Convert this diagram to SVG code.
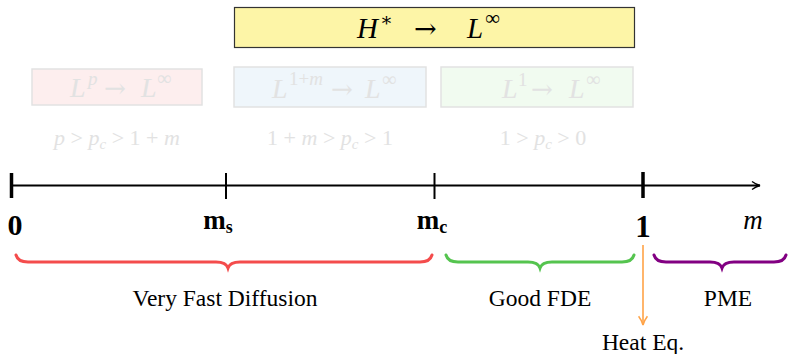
<svg xmlns="http://www.w3.org/2000/svg" width="789" height="354" viewBox="0 0 789 354">
<style>
.serif{font-family:"Liberation Serif","DejaVu Serif",serif;}
.math{font-family:"Liberation Serif","DejaVu Serif",serif;font-style:italic;}
.up{font-style:normal;}
.arr{font-family:"DejaVu Serif",serif;font-style:normal;}
.faint{fill:#e2e2e2;}
.fbox{stroke:#e2e2e2;stroke-width:1.5;}
.tick{stroke:#000;}
.brace{fill:none;stroke-width:3;stroke-linecap:round;}
</style>
<defs>
<marker id="chev" viewBox="0 0 10 10" refX="9" refY="5" markerWidth="10" markerHeight="10" markerUnits="userSpaceOnUse" orient="auto">
<path d="M1,1 Q5,4 9,5 Q5,6 1,9" fill="none" stroke="#000" stroke-width="1.3"/>
</marker>
<marker id="chevO" viewBox="0 0 10 10" refX="9" refY="5" markerWidth="11" markerHeight="11" markerUnits="userSpaceOnUse" orient="auto">
<path d="M1,1 Q5,4 9,5 Q5,6 1,9" fill="none" stroke="#ffa347" stroke-width="1.4"/>
</marker>
</defs>

<g id="top-box">
<rect x="234.5" y="7.5" width="400" height="40" fill="#fdf5a7" stroke="#333" stroke-width="1.2"/>
<text y="38" class="math" font-size="29"><tspan x="357">H</tspan><tspan x="380" y="26" font-size="19">∗</tspan><tspan x="414" y="38" class="arr" font-size="27">→</tspan><tspan x="467">L</tspan><tspan x="485" y="25" font-size="21" class="up">∞</tspan></text>
</g>

<g id="box-lp">
<rect x="32" y="69" width="170" height="36" fill="#fdeeee" class="fbox"/>
<text y="97" class="math faint" font-size="28"><tspan x="70">L</tspan><tspan x="88" y="85" font-size="19">p</tspan><tspan x="104" y="97" class="arr" font-size="26">→</tspan><tspan x="141">L</tspan><tspan x="157" y="85" font-size="20" class="up">∞</tspan></text>
<text x="117" y="145" text-anchor="middle" class="math faint" font-size="22">p <tspan class="up">&gt;</tspan> p<tspan font-size="15" dy="4">c</tspan><tspan dy="-4" class="up"> &gt; 1 + </tspan>m</text>
</g>

<g id="box-l1m">
<rect x="234" y="67" width="192" height="40" fill="#eff6fb" class="fbox"/>
<text y="98" class="math faint" font-size="28"><tspan x="272">L</tspan><tspan x="289" y="85" font-size="19" class="up">1+</tspan><tspan font-size="19">m</tspan><tspan x="331" y="98" class="arr" font-size="26">→</tspan><tspan x="365">L</tspan><tspan x="382" y="86" font-size="20" class="up">∞</tspan></text>
<text x="330" y="145" text-anchor="middle" class="math faint" font-size="22"><tspan class="up">1 + </tspan>m <tspan class="up">&gt;</tspan> p<tspan font-size="15" dy="4">c</tspan><tspan dy="-4" class="up"> &gt; 1</tspan></text>
</g>

<g id="box-l1">
<rect x="441" y="67" width="192" height="40" fill="#f1fbf0" class="fbox"/>
<text y="98" class="math faint" font-size="28"><tspan x="502">L</tspan><tspan x="518" y="86" font-size="19" class="up">1</tspan><tspan x="531" y="98" class="arr" font-size="26">→</tspan><tspan x="569">L</tspan><tspan x="586" y="86" font-size="20" class="up">∞</tspan></text>
<text x="543" y="145" text-anchor="middle" class="math faint" font-size="22"><tspan class="up">1 &gt; </tspan>p<tspan font-size="15" dy="4">c</tspan><tspan dy="-4" class="up"> &gt; 0</tspan></text>
</g>

<g id="axis">
<line x1="11" y1="185.5" x2="760" y2="185.5" stroke="#000" stroke-width="2" marker-end="url(#chev)"/>
<line x1="11.5" y1="173" x2="11.5" y2="198" class="tick" stroke-width="3.5"/>
<line x1="226" y1="173" x2="226" y2="199" class="tick" stroke-width="2"/>
<line x1="434.5" y1="173" x2="434.5" y2="199" class="tick" stroke-width="2"/>
<line x1="643" y1="172" x2="643" y2="198" class="tick" stroke-width="3.5"/>
<text x="15" y="235" text-anchor="middle" class="serif" font-weight="bold" font-size="30">0</text>
<text x="218" y="229" text-anchor="middle" class="serif" font-weight="bold" font-size="27">m<tspan font-size="18" dy="4">s</tspan></text>
<text x="432" y="229" text-anchor="middle" class="serif" font-weight="bold" font-size="27">m<tspan font-size="18" dy="4">c</tspan></text>
<text x="643" y="237" text-anchor="middle" class="serif" font-weight="bold" font-size="31">1</text>
<text x="753" y="229" text-anchor="middle" class="math" font-size="27">m</text>
</g>

<g id="brace-vfd">
<path class="brace" stroke="#f44c4c" d="M16,255 Q18,262 28,262 L216,262 Q226,262 228,268 Q230,262 240,262 L420,262 Q430,262 432,255"/>
<text x="225" y="306" text-anchor="middle" class="serif" font-size="23.5">Very Fast Diffusion</text>
</g>

<g id="brace-fde">
<path class="brace" stroke="#55c44f" d="M446,255 Q448,262 458,262 L528,262 Q538,262 540,268 Q542,262 552,262 L622,262 Q632,262 634,255"/>
<text x="540" y="306" text-anchor="middle" class="serif" font-size="23.5">Good FDE</text>
</g>

<g id="brace-pme">
<path class="brace" stroke="#820082" d="M654,255 Q656,262 666,262 L710,262 Q720,262 722,268 Q724,262 734,262 L774,262 Q784,262 786,255"/>
<text x="728" y="306" text-anchor="middle" class="serif" font-size="23.5">PME</text>
</g>

<g id="connectors">
<line x1="643" y1="245" x2="643" y2="325" stroke="#ffa347" stroke-width="1.6" marker-end="url(#chevO)"/>
</g>

<g id="heat">
<text x="643" y="350" text-anchor="middle" class="serif" font-size="23.5">Heat Eq.</text>
</g>
</svg>
